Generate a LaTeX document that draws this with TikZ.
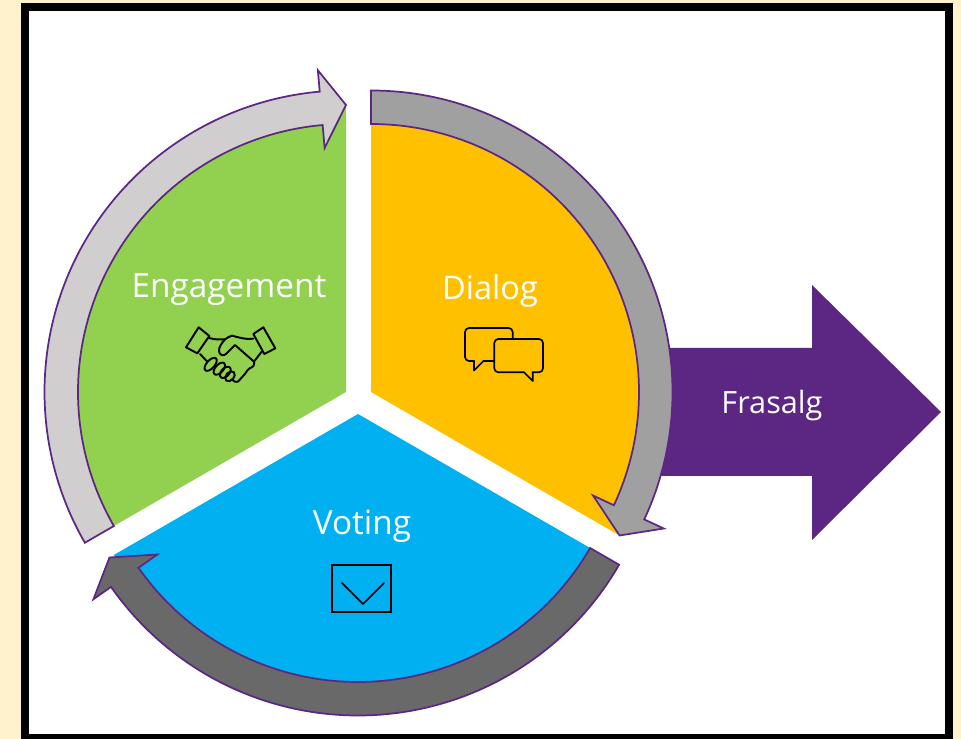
\documentclass[tikz,border=0pt]{standalone}
\usepackage{fontspec}
\setmainfont{Open Sans}
\definecolor{cream}{HTML}{FFF2CC}
\definecolor{plum}{HTML}{5C2683}
\definecolor{leaf}{HTML}{92D050}
\definecolor{amber}{HTML}{FFC000}
\definecolor{sky}{HTML}{00B0F0}
\definecolor{bandlight}{HTML}{D0CECE}
\definecolor{bandmid}{HTML}{A0A0A0}
\definecolor{banddark}{HTML}{696969}
\tikzset{
  x=.75pt,y=.75pt,
  caption/.style={text=white,font=\fontsize{25}{30}\selectfont,inner sep=0pt},
  ringband/.style={draw=plum,line width=1.3pt,line join=miter,fill=#1},
  icon/.style={draw=black,line width=1.25pt,line join=round,line cap=round},
}
\newcommand{\ringpiece}[4]{% cx, cy, rotation, fill
  \begin{scope}[shift={(#1,#2)},rotate=#3]
    \draw[ringband=#4]
      (210:268) -- (210:301.5) arc[start angle=210,end angle=95,radius=301.5]
      -- (95:323) -- (90:287) -- (95:245) -- (95:268)
      arc[start angle=95,end angle=210,radius=268] -- cycle;
  \end{scope}}
\begin{document}
\begin{tikzpicture}
  \useasboundingbox (0,0) rectangle (961,739);
  \fill[cream] (0,0) rectangle (961,739);
  \fill[black] (21,0) rectangle (953,736);
  \fill[white] (29,5) rectangle (945,728);
  % Frasalg arrow
  \fill[plum] (640,391) -- (812,391) -- (812,454) -- (941,327) -- (812,199)
     -- (812,263) -- (640,263) -- cycle;
  % sectors
  \fill[leaf] (346,347) -- ++(210:286) arc[start angle=210,end angle=90,radius=286] -- cycle;
  \fill[amber] (371,347) -- ++(90:286) arc[start angle=90,end angle=-30,radius=286] -- cycle;
  \fill[sky] (358,325) -- ++(-30:282) arc[start angle=-30,end angle=-150,radius=282] -- cycle;
  % ring arrows
  \ringpiece{346}{347}{0}{bandlight}
  \ringpiece{371}{347}{-120}{bandmid}
  \ringpiece{358}{325}{120}{banddark}
  % labels
  \node[caption] (engagement) at (229,449) {Engagement};
  \node[caption,font=\fontsize{24.4}{30}\selectfont] (dialog) at (490,448) {Dialog};
  \node[caption] (voting) at (362,213) {Voting};
  \node[caption,font=\fontsize{23}{28}\selectfont] (frasalg) at (772,333) {Frasalg};
  % envelope icon
  \draw[icon,line join=miter] (332,174) rectangle (391,127);
  \draw[icon] (342,156) -- (363,135) -- (384,156);
  % chat icon
  \draw[icon,rounded corners=3] (494.3,378) -- (483.5,378);
  \draw[icon] (483.5,378) -- (474,368.5) -- (474,378);
  \draw[icon,rounded corners=3] (474,378) -- (465,378) -- (465,411) -- (512.7,411) -- (512.7,400);
  \draw[icon] (524,366.7) -- (532.7,358) -- (532.7,366.7);
  \draw[icon,rounded corners=3] (532.7,366.7) -- (543,366.7) -- (543,400) -- (494.3,400) -- (494.3,366.7) -- (524,366.7);
  % handshake icon
  \begin{scope}[shift={(170,429)},xscale=1/3,yscale=-1/3,icon/.append style={line width=1.45pt}]
    \draw[icon] (86,52) -- (118,78) -- (82,130) -- (48,112) -- cycle;
    \draw[icon] (280,52) -- (316,115) -- (283,132) -- (250,72) -- cycle;
    \draw[icon] (118,84) .. controls (135,90) and (150,88) .. (165,88)
       .. controls (172,84) and (178,78) .. (186,77)
       .. controls (205,82) and (230,90) .. (250,86);
    \draw[icon] (165,88) .. controls (155,100) and (147,110) .. (147,122)
       .. controls (147,135) and (160,140) .. (168,132) -- (195,105) -- (252,155)
       .. controls (254,165) and (250,172) .. (240,174)
       .. controls (232,176) and (232,185) .. (222,195)
       -- (205,214) .. controls (200,218) and (190,214) .. (184,208);
    \draw[icon] (275,125) -- (252,155);
    \draw[icon] (90,132) -- (112,155);
    \foreach \cx/\cy/\ra in {122/163/24,148/176/22,166/187/20,180/199/17}
      \draw[icon,rotate around={-48:(\cx,\cy)}] (\cx,\cy) ellipse (\ra*3/3 and 12);
  \end{scope}
\end{tikzpicture}
\end{document}
